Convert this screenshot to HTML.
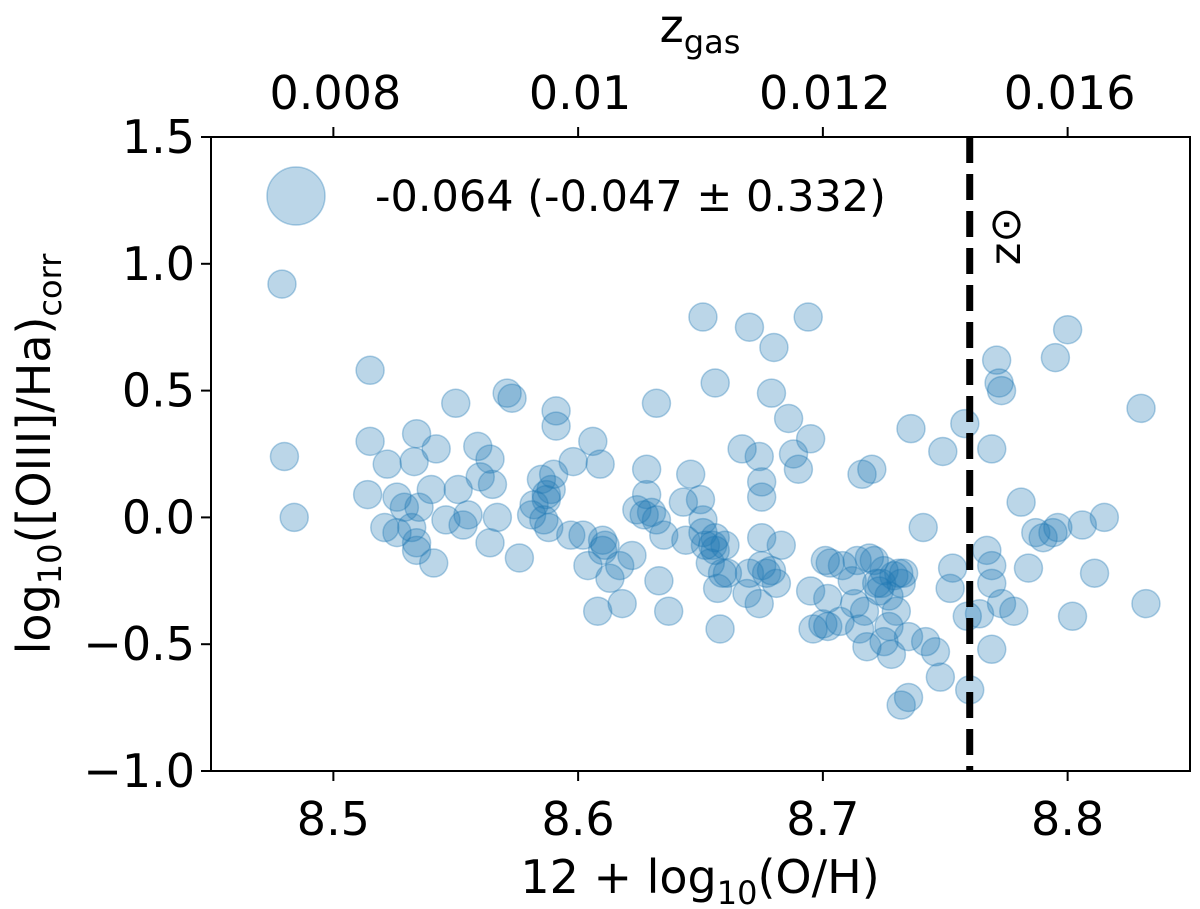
<!DOCTYPE html>
<html><head><meta charset="utf-8"><style>
html,body{margin:0;padding:0;background:#fff;}
svg{display:block;font-family:"DejaVu Sans","Liberation Sans",sans-serif;}
</style></head><body>
<svg id="chart" width="1200" height="909" viewBox="0 0 1200 909">
<g id="points"></g>
<g id="axes"></g>
</svg>
<script>
const xVals=[8.479,8.480,8.484,8.515,8.515,8.514,8.521,8.526,8.522,8.526,8.534,8.533,8.542,8.529,8.532,8.534,8.534,8.541,8.535,8.540,8.546,8.550,8.551,8.553,8.555,8.559,8.564,8.560,8.565,8.567,8.564,8.571,8.573,8.576,8.581,8.582,8.585,8.586,8.587,8.587,8.589,8.590,8.588,8.591,8.591,8.598,8.597,8.606,8.609,8.611,8.602,8.604,8.608,8.613,8.617,8.618,8.610,8.610,8.622,8.624,8.627,8.628,8.632,8.632,8.633,8.630,8.628,8.635,8.637,8.646,8.643,8.650,8.651,8.651,8.644,8.651,8.656,8.652,8.655,8.656,8.656,8.657,8.654,8.659,8.660,8.661,8.658,8.667,8.670,8.669,8.670,8.674,8.677,8.679,8.674,8.675,8.675,8.675,8.675,8.680,8.679,8.681,8.683,8.688,8.686,8.690,8.694,8.695,8.695,8.696,8.702,8.701,8.700,8.703,8.702,8.707,8.708,8.712,8.714,8.713,8.715,8.718,8.716,8.719,8.720,8.717,8.721,8.722,8.723,8.724,8.725,8.727,8.725,8.727,8.728,8.729,8.731,8.732,8.733,8.730,8.735,8.736,8.732,8.735,8.741,8.742,8.746,8.748,8.749,8.753,8.752,8.758,8.759,8.760,8.764,8.767,8.769,8.769,8.769,8.771,8.772,8.773,8.769,8.773,8.778,8.781,8.784,8.787,8.790,8.795,8.800,8.794,8.796,8.802,8.806,8.811,8.815,8.830,8.832];
const yVals=[0.92,0.24,0.00,0.58,0.30,0.09,-0.04,-0.06,0.21,0.08,0.33,0.22,0.27,0.04,-0.04,-0.13,-0.10,-0.18,0.04,0.11,-0.01,0.45,0.11,-0.03,0.01,0.28,0.23,0.16,0.13,0.00,-0.10,0.49,0.47,-0.16,0.01,0.05,0.15,-0.01,0.09,0.07,0.11,0.17,-0.04,0.42,0.36,0.22,-0.07,0.30,0.21,-0.11,-0.07,-0.19,-0.37,-0.24,-0.19,-0.34,-0.09,-0.13,-0.15,0.03,0.01,0.19,-0.01,0.45,-0.25,0.02,0.09,-0.07,-0.37,0.17,0.06,0.07,-0.01,-0.06,-0.09,0.79,0.53,-0.11,-0.11,-0.08,-0.13,-0.28,-0.18,-0.22,-0.11,-0.22,-0.44,0.27,0.75,-0.30,-0.22,-0.34,-0.22,-0.21,0.24,0.14,0.08,-0.08,-0.19,0.67,0.49,-0.26,-0.11,0.25,0.39,0.19,0.79,0.31,-0.29,-0.44,-0.32,-0.17,-0.42,-0.18,-0.43,-0.41,-0.19,-0.25,-0.17,-0.34,-0.44,-0.51,0.17,-0.16,0.19,-0.37,-0.17,-0.26,-0.29,-0.26,-0.21,-0.31,-0.49,-0.43,-0.54,-0.23,-0.22,-0.26,-0.22,-0.37,-0.47,0.35,-0.74,-0.71,-0.04,-0.49,-0.53,-0.63,0.26,-0.20,-0.28,0.37,-0.39,-0.68,-0.38,-0.13,0.27,-0.19,-0.26,0.62,0.53,0.50,-0.52,-0.34,-0.37,0.06,-0.20,-0.06,-0.08,0.63,0.74,-0.06,-0.04,-0.39,-0.03,-0.22,0.00,0.43,-0.34];
const xTicks=[8.5,8.6,8.7,8.8];
const yTicks=[1.5,1.0,0.5,0.0,-0.5,-1.0];
const yTickLabels=["1.5","1.0","0.5","0.0","\u22120.5","\u22121.0"];
const topTickPos=[8.5,8.6,8.7,8.8];
const topTickLabels=["0.008","0.01","0.012","0.016"];
const solarOH=8.76;

const L=211,R=1190,T=137,B=771,X0=8.45,X1=8.85,Y0=-1.0,Y1=1.5;
const sx=v=>L+(v-X0)/(X1-X0)*(R-L);
const sy=v=>B-(v-Y0)/(Y1-Y0)*(B-T);
const NS="http://www.w3.org/2000/svg";
function mk(tag,attrs,parent,text){const e=document.createElementNS(NS,tag);for(const k in attrs)e.setAttribute(k,attrs[k]);if(text!==undefined)e.textContent=text;parent.appendChild(e);return e;}
const P=document.getElementById('points'),A=document.getElementById('axes');
for(let i=0;i<xVals.length;i++){
  const c=mk('circle',{cx:sx(xVals[i]),cy:sy(yVals[i]),r:14,fill:'#1f77b4','fill-opacity':0.3,stroke:'#1f77b4','stroke-opacity':0.35,'stroke-width':1.5},P);
  
  
}
const lc=mk('circle',{cx:296,cy:196,r:29,fill:'#1f77b4','fill-opacity':0.3,stroke:'#1f77b4','stroke-opacity':0.35,'stroke-width':1.5},A);


const lt=mk('text',{x:375,y:211,'font-size':43,fill:'#000'},A,"-0.064 (-0.047 \u00b1 0.332)");


const sl=mk('line',{x1:sx(solarOH),x2:sx(solarOH),y1:T,y2:B,stroke:'#000','stroke-width':7,'stroke-dasharray':'26,11'},A);


const st=mk('text',{x:0,y:0,'font-size':43,transform:`translate(992,238) rotate(90)`,'text-anchor':'middle'},A,"z\u2299");


st.setAttribute('transform','translate(1020,236) rotate(-90)');
const fr=mk('rect',{x:L,y:T,width:R-L,height:B-T,fill:'none',stroke:'#000','stroke-width':2},A);


xTicks.forEach(v=>{
  const t=mk('line',{x1:sx(v),x2:sx(v),y1:B,y2:B+10,stroke:'#000','stroke-width':2},A);
  
  
  const l=mk('text',{x:sx(v),y:B+64,'font-size':46,'text-anchor':'middle'},A,v.toFixed(1));
  
  
});
yTicks.forEach((v,i)=>{
  const t=mk('line',{x1:L-10,x2:L,y1:sy(v),y2:sy(v),stroke:'#000','stroke-width':2},A);
  
  
  const l=mk('text',{x:L-16,y:sy(v)+16,'font-size':46,'text-anchor':'end'},A,yTickLabels[i]);
  
  
});
topTickPos.forEach((v,i)=>{
  const t=mk('line',{x1:sx(v),x2:sx(v),y1:T-10,y2:T,stroke:'#000','stroke-width':2},A);
  
  
  const l=mk('text',{x:sx(v)+2,y:T-28,'font-size':46,'text-anchor':'middle'},A,topTickLabels[i]);
  
  
});
</script>
<svg style="position:absolute;left:0;top:0" width="1200" height="909">
<text x="700" y="893" font-size="46" text-anchor="middle" font-family="DejaVu Sans, Liberation Sans, sans-serif">12 + log<tspan font-size="32" dy="11">10</tspan><tspan dy="-11">(O/H)</tspan></text>
<text x="700" y="42" font-size="46" text-anchor="middle" font-family="DejaVu Sans, Liberation Sans, sans-serif">z<tspan font-size="32" dy="11">gas</tspan></text>
<text transform="translate(50,454) rotate(-90)" font-size="46" text-anchor="middle" font-family="DejaVu Sans, Liberation Sans, sans-serif">log<tspan font-size="32" dy="11">10</tspan><tspan dy="-11">([OIII]/Ha)</tspan><tspan font-size="32" dy="11">corr</tspan></text>
</svg>
</body></html>
